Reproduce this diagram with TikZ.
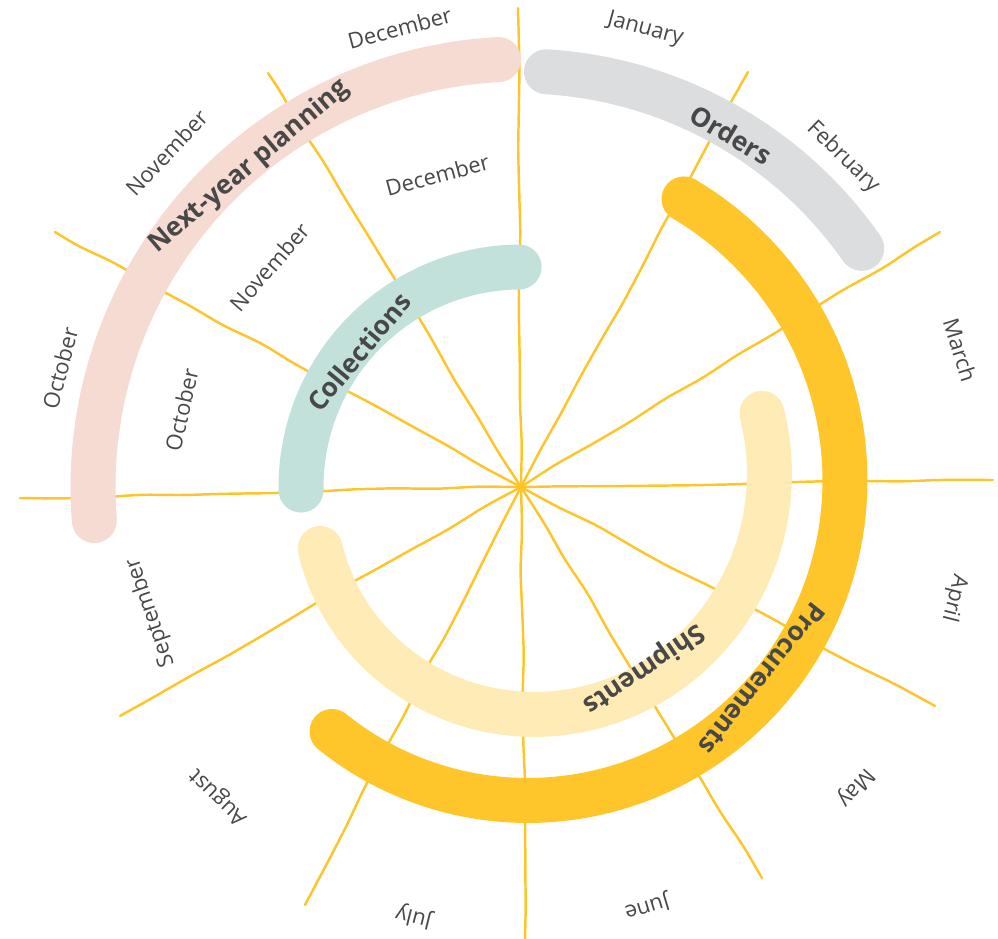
\documentclass[tikz,border=0pt]{standalone}
\usepackage{xcolor}
\usepackage{fontspec}
\setmainfont{Open Sans}
\usepackage{tikz}
\usetikzlibrary{calc}
\usetikzlibrary{decorations.pathmorphing}
\definecolor{spoke}{HTML}{FEC52A}
\definecolor{procure}{HTML}{FEC62A}
\definecolor{ship}{HTML}{FFEBB5}
\definecolor{collect}{HTML}{C1E1DA}
\definecolor{order}{HTML}{DCDDDF}
\definecolor{plan}{HTML}{F5DBD2}
\definecolor{ink}{HTML}{484848}
\tikzset{>=latex}
\tikzstyle{ray} = [draw = spoke, line width = 1.4pt, line cap = round, rounded corners = 6pt, decorate, decoration = {random steps, segment length = 24pt, amplitude = 0.9pt}]
\tikzstyle{band} = [line width = 0.9cm, line cap = round]
\tikzstyle{month} = [draw = none, inner sep = 1, text = ink, font = \fontsize{12.5}{14}\selectfont]
\tikzstyle{task} = [draw = none, inner sep = 1, text = ink, font = \fontsize{15}{17}\selectfont\bfseries]

\begin{document}
\begin{tikzpicture}[x = 0.02cm, y = 0.02cm]
\useasboundingbox (-521, -452) rectangle (477, 487);
\pgfmathsetseed{11}
\coordinate (c) at (0, 0);
% spoke ends
\coordinate (s0) at (472, 7);
\coordinate (s1) at (419, 255);
\coordinate (s2) at (227, 415);
\coordinate (s3) at (-3, 479);
\coordinate (s4) at (-253, 414);
\coordinate (s5) at (-466, 255);
\coordinate (s6) at (-501, -11);
\coordinate (s7) at (-401, -229);
\coordinate (s8) at (-216, -418);
\coordinate (s9) at (4, -455);
\coordinate (s10) at (241, -391);
\coordinate (s11) at (414, -219);
\foreach \s in {0, ..., 11}
  \draw [ray] (c) -- (s\s);

% bands
\draw [band, draw = plan] plot [domain = 184.5:93, samples = 50, smooth, variable = \t] (\t: 428);
\draw [band, draw = order] plot [domain = 86.5:35, samples = 40, smooth, variable = \t] (\t: 416);
\draw [band, draw = procure] plot [domain = 60.5:-127.7, samples = 80, smooth, variable = \t] (\t: {331 - 22*(60.5-\t)/188.2});
\draw [band, draw = ship] plot [domain = 17:-163, samples = 80, smooth, variable = \t] (\t: {252 - 42*(17-\t)/180});
\draw [band, draw = collect] plot [domain = 180.8:90.5, samples = 40, smooth, variable = \t] (\t: 220);

% band labels
\node [task, rotate = 40.3] (nyp) at (130.3: 420) {Next-year planning};
\node [task, rotate = -30.8] (ord) at (59.2: 410) {Orders};
\node [task, rotate = -128.5] (proc) at (-38.5: 308) {Procurements};
\node [task, rotate = -145.9] (ship) at (-55.9: 219) {Shipments};
\node [task, rotate = 50.2] (coll) at (140.2: 211) {Collections};

% months, outer ring
\node [month, rotate = -15.2] (jan) at (74.8: 474) {January};
\node [month, rotate = -44.3] (feb) at (45.7: 461) {February};
\node [month, rotate = -72.7] (mar) at (17.3: 460) {March};
\node [month, rotate = -104.4] (apr) at (-14.4: 447) {April};
\node [month, rotate = -131.9] (may) at (-41.9: 449) {May};
\node [month, rotate = -163.3] (jun) at (-73.3: 438) {June};
\node [month, rotate = -194] (jul) at (-104: 443) {July};
\node [month, rotate = -224.3] (aug) at (-134.3: 433) {August};
\node [month, rotate = 108.7] (sep) at (198.7: 391) {September};
\node [month, rotate = 75.5] (oct) at (165.5: 476) {October};
\node [month, rotate = 46.7] (nov) at (136.7: 487) {November};
\node [month, rotate = 14.8] (dec) at (104.8: 475) {December};
% months, inner ring
\node [month, rotate = 15] (dec2) at (105: 323) {December};
\node [month, rotate = 48.8] (nov2) at (138.8: 334) {November};
\node [month, rotate = 77.2] (oct2) at (167.2: 348) {October};
\end{tikzpicture}
\end{document}
